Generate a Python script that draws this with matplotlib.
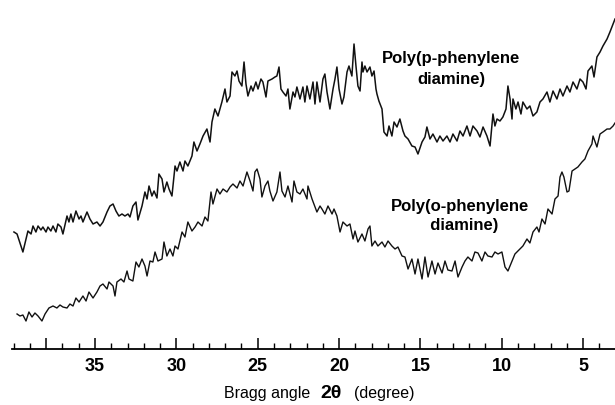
import matplotlib
matplotlib.use("Agg")
import matplotlib.pyplot as plt
from matplotlib.ticker import FixedLocator, MultipleLocator

plt.rcParams["font.family"] = ["Liberation Sans", "DejaVu Sans"]

# ── Poly(p-phenylene diamine): 2theta (deg), intensity (a.u.) ─────────────
ppd_2theta = [
    39.98, 39.79, 39.43, 39.24, 39.12, 38.93, 38.81, 38.63, 38.50, 38.32,
    38.20, 38.01, 37.89, 37.71, 37.58, 37.40, 37.28, 37.09, 36.97, 36.72,
    36.60, 36.48, 36.35, 36.17, 35.98, 35.86, 35.74, 35.49, 35.31, 35.12,
    34.88, 34.69, 34.51, 34.26, 34.08, 33.89, 33.71, 33.53, 33.34, 33.16,
    32.97, 32.85, 32.67, 32.48, 32.36, 32.11, 31.93, 31.80, 31.68, 31.50,
    31.37, 31.19, 31.07, 30.88, 30.76, 30.58, 30.45, 30.27, 30.08, 29.96,
    29.78, 29.59, 29.47, 29.29, 29.04, 28.92, 28.73, 28.55, 28.36, 28.12,
    27.93, 27.81, 27.63, 27.44, 27.20, 27.01, 26.89, 26.70, 26.58, 26.40,
    26.27, 26.15, 25.97, 25.84, 25.72, 25.60, 25.41, 25.29, 25.11, 24.98,
    24.80, 24.68, 24.49, 24.37, 24.12, 23.94, 23.82, 23.69, 23.57, 23.45,
    23.26, 23.14, 23.02, 22.83, 22.71, 22.59, 22.40, 22.22, 22.10, 21.97,
    21.79, 21.60, 21.48, 21.36, 21.17, 20.99, 20.87, 20.74, 20.56, 20.37,
    20.25, 20.13, 20.00, 19.82, 19.70, 19.51, 19.39, 19.21, 19.08, 18.96,
    18.84, 18.71, 18.59, 18.53, 18.41, 18.28, 18.10, 17.98, 17.85, 17.73,
    17.67, 17.55, 17.36, 17.24, 17.05, 16.93, 16.75, 16.62, 16.44, 16.26,
    16.07, 15.95, 15.76, 15.52, 15.33, 15.15, 14.90, 14.72, 14.60, 14.41,
    14.23, 13.98, 13.80, 13.61, 13.37, 13.18, 13.00, 12.75, 12.57, 12.38,
    12.14, 11.95, 11.77, 11.52, 11.34, 11.15, 10.91, 10.72, 10.54, 10.42,
    10.29, 10.11, 9.93, 9.74, 9.62, 9.49, 9.37, 9.31, 9.13, 9.00,
    8.82, 8.70, 8.45, 8.27, 8.08, 7.84, 7.65, 7.47, 7.22, 7.04,
    6.85, 6.61, 6.42, 6.24, 5.99, 5.81, 5.62, 5.38, 5.19, 5.01,
    4.82, 4.70, 4.46, 4.33, 4.15, 3.96, 3.78, 3.53, 3.35, 3.16,
    3.04,
]
ppd_counts = [
    117, 115, 97, 110, 118, 115, 123, 117, 123, 119,
    122, 117, 122, 118, 123, 117, 125, 122, 115, 133,
    127, 135, 127, 138, 130, 133, 127, 137, 130, 125,
    127, 123, 127, 137, 143, 145, 138, 133, 135, 133,
    135, 132, 143, 147, 129, 143, 157, 150, 163, 153,
    158, 151, 175, 170, 157, 167, 160, 153, 183, 178,
    187, 178, 188, 183, 193, 207, 198, 205, 213, 220,
    207, 227, 240, 233, 247, 260, 247, 253, 277, 273,
    278, 268, 263, 287, 265, 253, 263, 258, 267, 260,
    270, 267, 252, 268, 270, 272, 273, 282, 260, 257,
    253, 260, 240, 257, 252, 262, 250, 262, 247, 263,
    250, 267, 245, 267, 247, 270, 275, 257, 240, 260,
    270, 282, 260, 245, 252, 277, 283, 273, 305, 283,
    263, 258, 287, 277, 283, 277, 282, 273, 278, 260,
    255, 248, 240, 217, 213, 223, 213, 227, 222, 230,
    218, 213, 210, 203, 202, 195, 207, 212, 222, 210,
    215, 207, 213, 208, 213, 207, 215, 208, 218, 213,
    223, 213, 223, 218, 212, 222, 213, 203, 235, 223,
    230, 228, 232, 240, 263, 250, 230, 250, 240, 247,
    235, 247, 240, 243, 233, 237, 247, 250, 257, 247,
    258, 250, 260, 253, 263, 257, 267, 260, 270, 267,
    260, 278, 283, 272, 292, 297, 303, 310, 317, 325,
    330,
]

# ── Poly(o-phenylene diamine) ──────────────────────────────────────────────
opd_2theta = [
    39.79, 39.61, 39.43, 39.24, 39.06, 38.87, 38.69, 38.50, 38.26, 38.07,
    37.83, 37.58, 37.34, 37.15, 36.97, 36.72, 36.54, 36.35, 36.17, 35.98,
    35.74, 35.55, 35.37, 35.12, 34.88, 34.69, 34.51, 34.26, 34.14, 33.89,
    33.77, 33.65, 33.40, 33.22, 33.03, 32.91, 32.67, 32.48, 32.30, 32.11,
    31.93, 31.80, 31.62, 31.44, 31.31, 31.13, 30.88, 30.76, 30.58, 30.39,
    30.21, 30.08, 29.90, 29.65, 29.47, 29.29, 29.04, 28.85, 28.67, 28.42,
    28.24, 28.06, 27.87, 27.75, 27.50, 27.32, 27.13, 26.89, 26.70, 26.52,
    26.27, 26.09, 25.90, 25.66, 25.47, 25.29, 25.17, 25.04, 24.86, 24.74,
    24.55, 24.37, 24.25, 24.06, 23.82, 23.63, 23.51, 23.32, 23.14, 22.89,
    22.77, 22.59, 22.40, 22.22, 21.97, 21.91, 21.66, 21.36, 21.17, 21.05,
    20.87, 20.68, 20.43, 20.31, 20.13, 19.94, 19.76, 19.51, 19.33, 19.14,
    19.02, 18.84, 18.59, 18.41, 18.22, 18.10, 17.98, 17.79, 17.61, 17.36,
    17.18, 16.99, 16.75, 16.56, 16.38, 16.13, 15.95, 15.76, 15.52, 15.33,
    15.15, 14.90, 14.72, 14.53, 14.29, 14.10, 13.92, 13.67, 13.49, 13.31,
    13.06, 12.87, 12.69, 12.44, 12.26, 12.08, 11.83, 11.65, 11.46, 11.22,
    11.03, 10.85, 10.60, 10.42, 10.23, 9.99, 9.80, 9.62, 9.37, 9.19,
    8.88, 8.70, 8.45, 8.27, 8.08, 7.84, 7.71, 7.53, 7.34, 7.16,
    6.91, 6.73, 6.54, 6.42, 6.30, 6.18, 5.99, 5.87, 5.68, 5.50,
    5.32, 5.07, 4.89, 4.70, 4.46, 4.39, 4.15, 3.96, 3.78, 3.53,
    3.35, 3.16, 3.04,
]
opd_counts = [
    35, 33, 34, 28, 37, 32, 36, 33, 28, 35,
    41, 43, 41, 44, 42, 41, 45, 43, 51, 47,
    53, 48, 57, 51, 57, 63, 65, 60, 67, 63,
    53, 67, 70, 67, 78, 70, 68, 87, 82, 90,
    83, 73, 88, 87, 97, 88, 90, 107, 93, 100,
    93, 103, 100, 117, 112, 127, 118, 122, 127, 123,
    132, 128, 157, 145, 160, 155, 160, 157, 162, 165,
    161, 168, 163, 177, 168, 158, 177, 180, 170, 152,
    163, 168, 158, 148, 157, 177, 158, 152, 163, 147,
    168, 157, 155, 160, 150, 163, 150, 137, 143, 140,
    135, 143, 135, 140, 133, 117, 127, 123, 125, 110,
    118, 107, 115, 108, 120, 123, 103, 108, 103, 107,
    102, 108, 103, 100, 102, 93, 92, 80, 90, 75,
    90, 70, 92, 72, 88, 75, 86, 76, 88, 79,
    78, 88, 72, 82, 88, 92, 88, 97, 96, 88,
    97, 93, 92, 97, 95, 97, 82, 78, 88, 95,
    100, 103, 110, 106, 117, 122, 117, 130, 125, 140,
    135, 150, 153, 172, 177, 172, 157, 158, 178, 180,
    182, 187, 190, 198, 205, 213, 202, 215, 217, 220,
    220, 223, 226,
]

major_ticks = [38, 35, 30, 25, 20, 15, 10, 5]
major_labels = ["", "35", "30", "25", "20", "15", "10", "5"]

fig = plt.figure(figsize=(6.15, 4.06), dpi=100)
ax = fig.add_axes([12 / 615, 56 / 406, 603 / 615, 350 / 406])

ax.plot(ppd_2theta, ppd_counts, color="#111111", lw=1.1)
ax.plot(opd_2theta, opd_counts, color="#111111", lw=1.0)

ax.set_xlim(40.1, 3.04)
ax.set_ylim(0, 350)

for side in ("top", "left", "right"):
    ax.spines[side].set_visible(False)
ax.spines["bottom"].set_linewidth(1.3)
ax.set_yticks([])

ax.xaxis.set_major_locator(FixedLocator(major_ticks))
ax.set_xticklabels(major_labels, fontsize=13, fontweight="bold")
ax.xaxis.set_minor_locator(MultipleLocator(1))
ax.tick_params(axis="x", which="major", direction="in", length=8, width=1.1, pad=6)
ax.tick_params(axis="x", which="minor", direction="in", length=4.5, width=1.0)

ax.text(13.12, 281, "Poly(p-phenylene\ndiamine)", ha="center", va="center",
        fontsize=12, fontweight="bold", linespacing=1.45)
ax.text(12.57, 134, "Poly(o-phenylene\n  diamine)", ha="center", va="center",
        fontsize=12, fontweight="bold", linespacing=1.4)

fig.text(0.505, 0.032, "Bragg angle", ha="right", va="center", fontsize=11.5)
fig.text(0.538, 0.032, "2θ", ha="center", va="center", fontsize=14, fontweight="bold")
fig.text(0.576, 0.032, "(degree)", ha="left", va="center", fontsize=11.5)

fig.savefig("out.png", dpi=100)
